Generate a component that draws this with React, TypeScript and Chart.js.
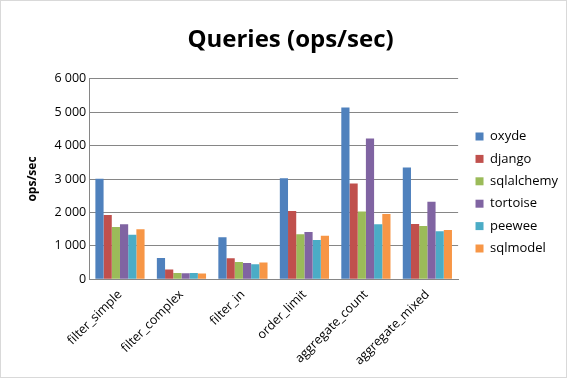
import React, { useEffect, useRef } from "react";
import { Chart, registerables } from "chart.js";

Chart.register(...registerables);

const categories = ["filter_simple", "filter_complex", "filter_in", "order_limit", "aggregate_count", "aggregate_mixed"];
const oxyde = [3010, 637, 1254, 3025, 5144, 3343];
const django = [1920, 289, 627, 2040, 2866, 1652];
const sqlalchemy = [1562, 189, 517, 1343, 2030, 1592];
const tortoise = [1642, 179, 488, 1413, 4209, 2318];
const peewee = [1333, 189, 448, 1174, 1642, 1433];
const sqlmodel = [1493, 169, 498, 1303, 1950, 1473];
const seriesNames = ["oxyde", "django", "sqlalchemy", "tortoise", "peewee", "sqlmodel"];
const seriesColors = ["#4F81BD", "#C0504D", "#9BBB59", "#8064A2", "#4BACC6", "#F79646"];
const yMax = 6000;
const yStep = 1000;

const shiftLegend = {
  id: "shiftLegend",
  afterLayout(chart: any) {
    const l = chart.legend;
    if (l) {
      l.left += 8;
      l.right += 8;
      l.top -= 1;
      l.bottom -= 1;
    }
  },
};

export default function App() {
  const ref = useRef<HTMLCanvasElement>(null);
  useEffect(() => {
    document.body.style.margin = "0";
    const values = [oxyde, django, sqlalchemy, tortoise, peewee, sqlmodel];
    const font = "'Open Sans', 'Noto Sans', sans-serif";
    const chart = new Chart(ref.current!, {
      type: "bar",
      data: {
        labels: categories,
        datasets: seriesNames.map((n, i) => ({
          label: n,
          data: values[i],
          backgroundColor: seriesColors[i],
          borderWidth: 0,
        })),
      },
      plugins: [shiftLegend],
      options: {
        animation: false,
        responsive: false,
        devicePixelRatio: 1,
        layout: { padding: { left: 20, right: 6, top: 10, bottom: 1 } },
        datasets: { bar: { categoryPercentage: 0.8, barPercentage: 1 } },
        plugins: {
          title: {
            display: true,
            text: "Queries (ops/sec)",
            color: "#000",
            font: { family: font, size: 24, weight: "bold" },
            padding: { top: 15, bottom: 24 },
          },
          legend: {
            position: "right",
            labels: {
              boxWidth: 8,
              boxHeight: 8,
              padding: 9.4,
              color: "#000",
              font: { family: font, size: 13 },
            },
          },
          tooltip: { enabled: false },
        },
        scales: {
          x: {
            grid: { display: false, drawTicks: false },
            border: { color: "#868686", width: 1 },
            ticks: {
              color: "#000",
              maxRotation: 45,
              minRotation: 45,
              font: { family: font, size: 12.5 },
              padding: 8,
            },
          },
          y: {
            min: 0,
            max: yMax,
            grid: { color: "#868686", drawTicks: false, lineWidth: 1 },
            border: { color: "#868686", width: 1 },
            ticks: {
              stepSize: yStep,
              color: "#000",
              font: { family: font, size: 12.5 },
              padding: 3,
              callback: (v: any) => {
                const n = Number(v);
                return n >= 1000 ? Math.floor(n / 1000) + " " + String(n % 1000).padStart(3, "0") : String(n);
              },
            },
            title: {
              display: true,
              text: "ops/sec",
              color: "#000",
              font: { family: font, size: 12, weight: "bold" },
              padding: { top: 4, bottom: 12 },
            },
          },
        },
      },
    });
    return () => chart.destroy();
  }, []);
  return (
    <div style={{ width: 567, height: 378, border: "1px solid #d9d9d9", boxSizing: "border-box", background: "#fff" }}>
      <canvas ref={ref} width={565} height={376} style={{ display: "block" }} />
    </div>
  );
}
